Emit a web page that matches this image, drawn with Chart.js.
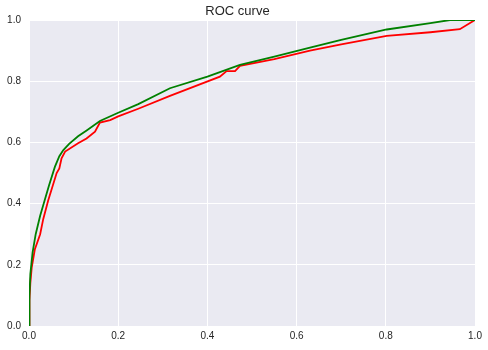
<!DOCTYPE html>
<html>
<head>
<meta charset="utf-8">
<script src="https://cdn.jsdelivr.net/npm/chart.js@4"></script>
<style>
html,body{margin:0;padding:0;background:#fff;}
#wrap{width:488px;height:350px;position:relative;}
</style>
</head>
<body>
<div id="wrap"><canvas id="c" width="488" height="350"></canvas></div>
<script>
const title = "ROC curve";
const xTicks = [0.0, 0.2, 0.4, 0.6, 0.8, 1.0];
const yTicks = [0.0, 0.2, 0.4, 0.6, 0.8, 1.0];

const greenFpr = [0, 0.001, 0.003, 0.008, 0.015, 0.025, 0.035, 0.045, 0.058, 0.068, 0.077, 0.090, 0.110, 0.130, 0.159, 0.200, 0.245, 0.316, 0.400, 0.473, 0.550, 0.630, 0.700, 0.802, 0.900, 0.944, 1.0];
const greenTpr = [0, 0.100, 0.170, 0.240, 0.300, 0.360, 0.410, 0.460, 0.520, 0.555, 0.575, 0.595, 0.620, 0.640, 0.670, 0.697, 0.725, 0.777, 0.815, 0.853, 0.880, 0.910, 0.935, 0.969, 0.990, 1.000, 1.0];

const redFpr = [0, 0.001, 0.003, 0.006, 0.013, 0.025, 0.032, 0.043, 0.062, 0.068, 0.073, 0.081, 0.110, 0.129, 0.148, 0.159, 0.182, 0.200, 0.245, 0.316, 0.428, 0.443, 0.462, 0.473, 0.550, 0.630, 0.700, 0.802, 0.900, 0.966, 1.0];
const redTpr = [0, 0.085, 0.140, 0.190, 0.250, 0.300, 0.350, 0.410, 0.500, 0.515, 0.548, 0.570, 0.597, 0.613, 0.635, 0.665, 0.673, 0.685, 0.710, 0.752, 0.815, 0.833, 0.833, 0.850, 0.872, 0.900, 0.920, 0.948, 0.960, 0.970, 1.0];

const toPts = (xs, ys) => xs.map((x, i) => ({x: x, y: ys[i]}));

const bgPlugin = {
  id: 'bg',
  beforeDraw(chart) {
    const a = chart.chartArea, ctx = chart.ctx;
    ctx.save();
    ctx.fillStyle = '#EAEAF2';
    ctx.fillRect(a.left, a.top, a.right - a.left, a.bottom - a.top);
    ctx.restore();
  }
};

new Chart(document.getElementById('c'), {
  type: 'scatter',
  data: {
    datasets: [
      {data: toPts(greenFpr, greenTpr), borderColor: '#008000', showLine: true, pointRadius: 0, borderWidth: 1.8, fill: false, tension: 0},
      {data: toPts(redFpr, redTpr), borderColor: '#ff0000', showLine: true, pointRadius: 0, borderWidth: 1.8, fill: false, tension: 0}
    ]
  },
  options: {
    responsive: false,
    animation: false,
    layout: {padding: {left: 0, right: 13, top: 0, bottom: 0}},
    plugins: {
      legend: {display: false},
      tooltip: {enabled: false},
      title: {display: true, text: title, color: '#262626', font: {family: 'Liberation Sans, Arial, sans-serif', size: 13, weight: 'normal'}, padding: {top: 4, bottom: 0.4}}
    },
    scales: {
      x: {
        type: 'linear', min: 0, max: 1,
        afterFit(s) { s.height = 24; },
        afterBuildTicks(s) { s.ticks = xTicks.map(v => ({value: v})); },
        grid: {color: '#ffffff', lineWidth: 1, drawTicks: false},
        border: {display: false},
        ticks: {color: '#262626', padding: 4, maxRotation: 0, font: {family: 'Liberation Sans, Arial, sans-serif', size: 10}, callback: v => v.toFixed(1)}
      },
      y: {
        type: 'linear', min: 0, max: 1,
        afterFit(s) { s.width = 29; },
        afterBuildTicks(s) { s.ticks = yTicks.map(v => ({value: v})); },
        grid: {color: '#ffffff', lineWidth: 1, drawTicks: false},
        border: {display: false},
        ticks: {color: '#262626', padding: 8, font: {family: 'Liberation Sans, Arial, sans-serif', size: 10}, callback: v => v.toFixed(1)}
      }
    }
  },
  plugins: [bgPlugin]
});
</script>
</body>
</html>
